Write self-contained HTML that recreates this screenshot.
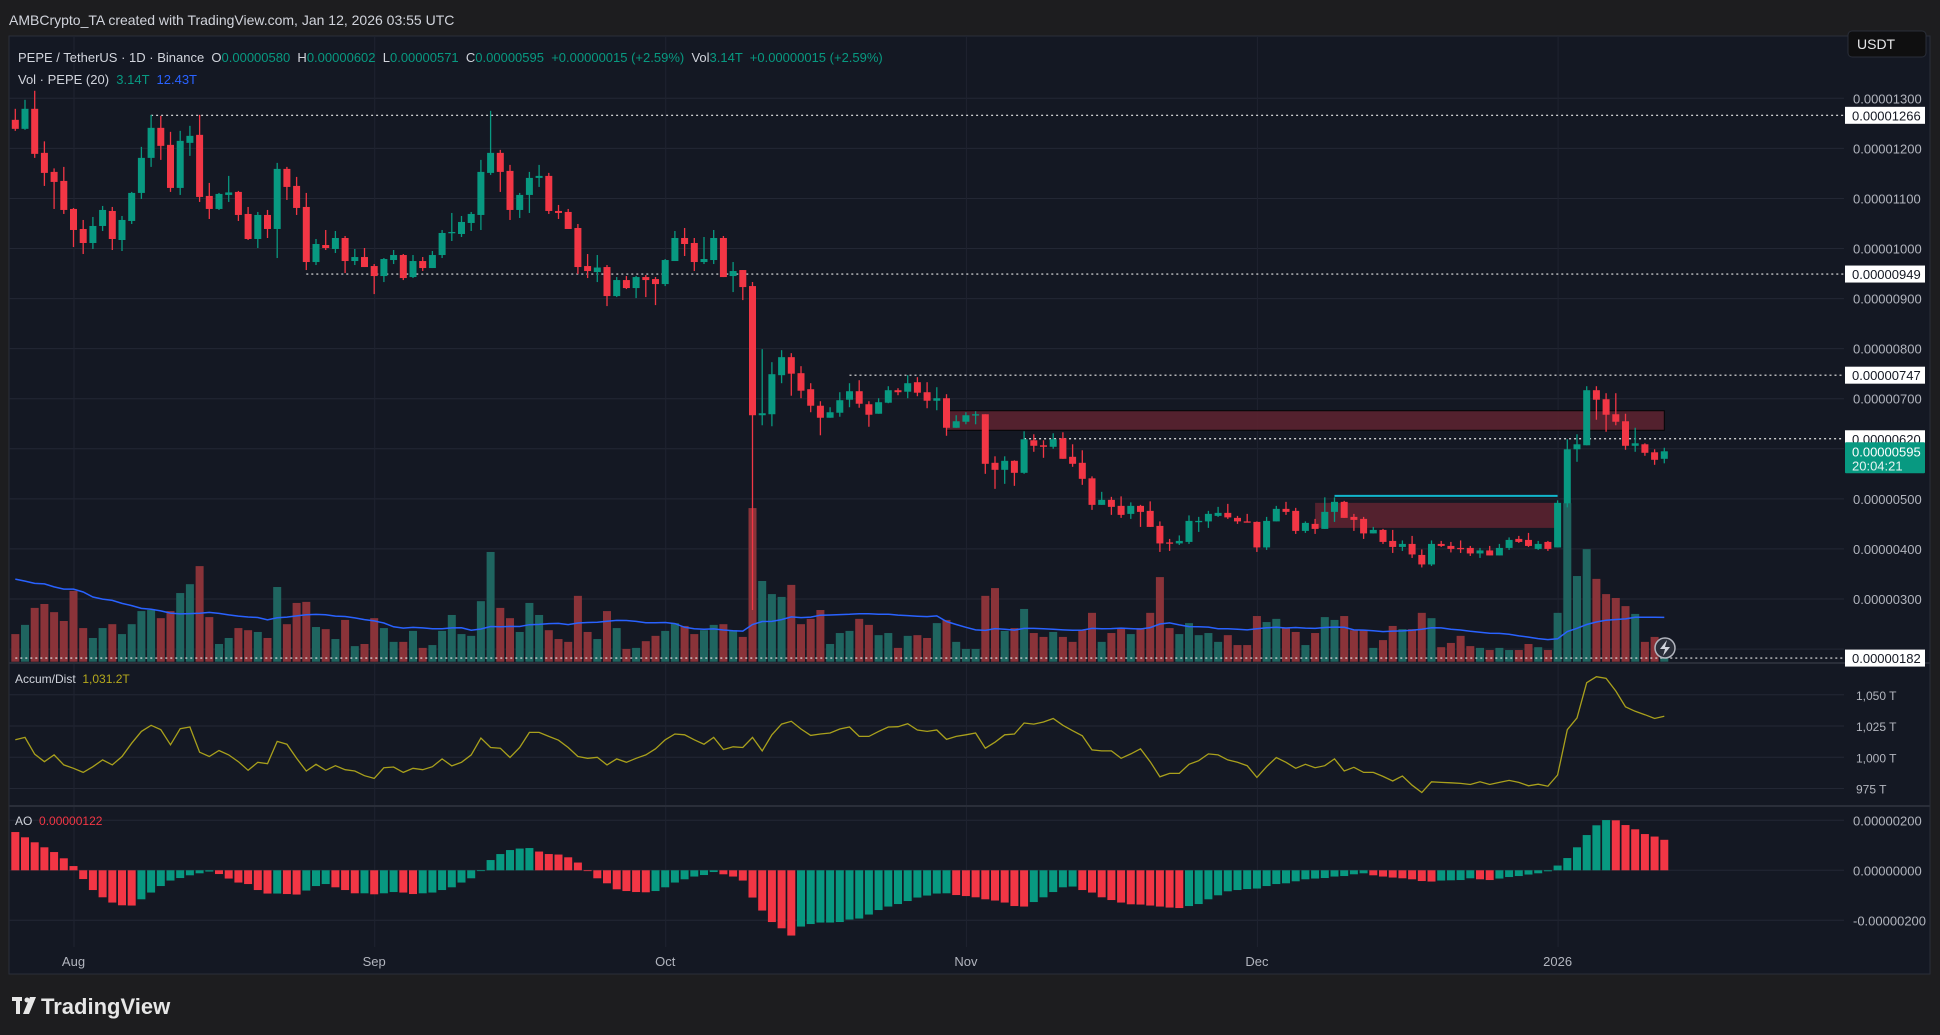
<!DOCTYPE html>
<html><head><meta charset="utf-8"><title>PEPE / TetherUS 1D</title>
<style>
html,body{margin:0;padding:0;background:#1d1d1f;}
body{width:1940px;height:1035px;overflow:hidden;font-family:"Liberation Sans",sans-serif;}
svg{display:block}
text{font-family:"Liberation Sans",sans-serif;}
</style></head>
<body>
<svg id="chart" width="1940" height="1035" viewBox="0 0 1940 1035" xmlns="http://www.w3.org/2000/svg">
  <defs>
    <clipPath id="clipPrice"><rect x="9" y="36" width="1835" height="626"/></clipPath>
    <clipPath id="clipAD"><rect x="9" y="664" width="1835" height="141"/></clipPath>
    <clipPath id="clipAO"><rect x="9" y="807" width="1835" height="140"/></clipPath>
  </defs>
  <rect x="0" y="0" width="1940" height="1035" fill="#1d1d1f"/>
  <text x="9" y="25" font-size="14" fill="#d1d4dc">AMBCrypto_TA created with TradingView.com, Jan 12, 2026 03:55 UTC</text>
  <rect x="9" y="36" width="1921" height="938" fill="#141823" stroke="#2a2e39" stroke-width="1"/>
  <g id="grid"></g>
  <g id="pricePane" clip-path="url(#clipPrice)"></g>
  <g id="adPane" clip-path="url(#clipAD)"></g>
  <g id="aoPane" clip-path="url(#clipAO)"></g>
  <g id="axes"></g>

  <g font-size="13">
    <text x="18" y="62" fill="#d1d4dc" xml:space="preserve">PEPE / TetherUS · 1D · Binance  O<tspan fill="#089981">0.00000580</tspan>  H<tspan fill="#089981">0.00000602</tspan>  L<tspan fill="#089981">0.00000571</tspan>  C<tspan fill="#089981">0.00000595</tspan>  <tspan fill="#089981">+0.00000015 (+2.59%)</tspan>  Vol<tspan fill="#089981">3.14T</tspan>  <tspan fill="#089981">+0.00000015 (+2.59%)</tspan></text>
    <text x="18" y="84" fill="#d1d4dc" xml:space="preserve">Vol · PEPE (20)  <tspan fill="#089981">3.14T</tspan>  <tspan fill="#2962ff">12.43T</tspan></text>
  </g>
  <g>
    <rect x="1848" y="31" width="78" height="26" rx="4" fill="#0f0f10" stroke="#2a2e39"/>
    <text x="1857" y="49" font-size="14" fill="#e8e8ea">USDT</text>
  </g>
  <text x="15" y="683" font-size="12" fill="#d1d4dc" xml:space="preserve">Accum/Dist  <tspan fill="#b5a91c">1,031.2T</tspan></text>
  <text x="15" y="825" font-size="12" fill="#d1d4dc" xml:space="preserve">AO  <tspan fill="#f23645">0.00000122</tspan></text>

  <g>
    <circle cx="1665" cy="648" r="10" fill="#2a2e39" stroke="#b2b5be" stroke-width="1.5"/>
    <path d="M1667 640 L1660 649 L1665 649 L1663 656 L1670 647 L1665 647 Z" fill="#d1d4dc"/>
  </g>

  <rect x="0" y="975" width="1940" height="60" fill="#1d1d1f"/>
  <g>
    <rect x="12" y="997" width="10" height="4" fill="#e6e6e6"/>
    <rect x="16" y="997" width="4" height="17" fill="#e6e6e6"/>
    <circle cx="27" cy="1000" r="2.5" fill="#e6e6e6"/>
    <path d="M30 997 L36 997 L29 1014 L23 1014 Z" fill="#e6e6e6"/>
    <text x="41" y="1014" font-size="22" font-weight="bold" fill="#e6e6e6">TradingView</text>
  </g>
</svg>
<script>
// ---------- DATA ----------
const openP = [12.57,12.39,12.79,11.91,11.53,11.35,10.79,10.39,10.11,10.45,10.75,10.17,10.55,11.11,11.81,12.41,12.07,11.21,12.11,12.27,11.05,10.79,11.07,11.13,10.69,10.19,10.67,10.39,11.59,11.25,10.83,9.73,10.07,9.99,10.21,9.75,9.83,9.65,9.45,9.77,9.87,9.43,9.75,9.61,9.87,10.31,10.29,10.51,10.67,11.51,11.91,11.55,10.77,11.07,11.41,11.45,10.75,10.73,10.41,9.65,9.53,9.63,9.05,9.37,9.21,9.43,9.39,9.29,9.75,10.21,10.11,9.73,9.77,10.21,9.45,9.57,9.25,6.67,6.69,7.47,7.83,7.51,7.19,6.86,6.62,6.72,6.98,7.15,6.89,6.70,6.92,7.17,7.14,7.33,7.13,6.96,7.01,6.42,6.54,6.68,6.69,5.72,5.58,5.76,5.52,6.17,6.07,6.04,6.21,5.84,5.72,5.41,4.88,4.98,4.86,4.70,4.86,4.76,4.46,4.13,4.11,4.14,4.55,4.55,4.66,4.72,4.62,4.55,4.54,4.03,4.55,4.80,4.76,4.36,4.50,4.40,4.74,4.94,4.64,4.60,4.31,4.38,4.16,4.04,4.10,3.88,3.69,4.10,4.06,4.02,4.02,3.91,3.97,3.87,4.02,4.20,4.18,4.00,4.14,4.03,4.91,5.99,6.07,7.17,6.99,6.69,6.55,6.06,6.09,5.93,5.80];
const highP = [12.79,12.97,13.15,12.14,11.60,11.63,10.81,10.57,10.63,10.85,10.83,10.65,11.13,12.03,12.67,12.65,12.33,12.35,12.45,12.67,11.31,11.11,11.45,11.15,10.83,10.73,10.77,11.71,11.63,11.43,11.11,10.19,10.37,10.35,10.25,9.99,10.01,9.69,9.81,9.97,9.89,9.87,9.83,9.95,10.37,10.71,10.65,10.73,11.77,12.75,11.97,11.67,11.11,11.53,11.67,11.51,10.87,10.79,10.49,9.89,9.87,9.67,9.43,9.45,9.45,9.47,9.43,9.79,10.35,10.41,10.21,10.23,10.37,10.25,9.73,9.57,9.33,7.99,7.73,7.97,7.91,7.65,7.31,6.95,6.83,7.13,7.31,7.37,6.95,7.01,7.25,7.21,7.47,7.43,7.33,7.23,7.09,6.67,6.73,6.75,6.69,5.85,5.85,5.77,6.35,6.29,6.17,6.31,6.33,6.09,5.97,5.45,5.14,5.04,5.05,4.93,4.88,4.95,4.55,4.20,4.27,4.67,4.64,4.76,4.84,4.90,4.66,4.70,4.55,4.64,4.86,4.94,4.82,4.55,4.60,5.03,5.03,4.96,4.70,4.64,4.44,4.40,4.38,4.17,4.26,3.99,4.17,4.16,4.14,4.17,4.06,4.02,4.06,4.10,4.23,4.26,4.32,4.16,4.16,4.97,6.19,6.29,7.25,7.25,7.11,7.11,6.70,6.42,6.11,5.99,6.02];
const lowP = [12.35,12.37,11.81,11.25,10.79,10.69,10.03,9.89,9.99,10.35,9.97,9.95,10.49,10.99,11.63,11.77,11.13,11.07,11.85,10.93,10.59,10.77,10.93,10.55,10.17,10.01,10.21,9.81,10.97,10.67,9.57,9.67,9.97,9.91,9.51,9.67,9.63,9.09,9.33,9.69,9.37,9.41,9.55,9.61,9.81,10.15,10.23,10.35,10.37,11.47,11.13,10.57,10.61,10.71,11.23,10.69,10.59,10.39,9.49,9.41,9.33,8.85,9.03,9.19,9.01,9.03,8.87,9.25,9.75,9.85,9.55,9.69,9.69,9.43,9.13,8.97,2.78,6.47,6.45,7.31,7.06,7.01,6.73,6.27,6.62,6.64,6.83,6.82,6.44,6.70,6.91,7.07,7.01,7.05,6.81,6.77,6.26,6.42,6.49,6.49,5.50,5.20,5.30,5.26,5.50,5.94,5.82,6.00,5.80,5.64,5.28,4.78,4.88,4.68,4.62,4.60,4.44,4.44,3.94,3.96,4.08,4.10,4.34,4.42,4.64,4.60,4.50,4.53,3.94,3.98,4.55,4.68,4.30,4.32,4.30,4.40,4.54,4.62,4.36,4.20,4.31,4.10,3.92,3.96,3.82,3.63,3.66,4.04,3.93,3.92,3.86,3.82,3.87,3.87,3.98,4.12,4.04,3.98,3.96,4.03,4.83,5.74,6.07,6.58,6.34,6.47,5.98,5.94,5.86,5.68,5.71];
const closeP = [12.39,12.79,11.89,11.51,11.33,10.77,10.37,10.11,10.45,10.77,10.19,10.57,11.11,11.81,12.41,12.05,11.21,12.15,12.25,11.03,10.79,11.09,11.12,10.67,10.19,10.67,10.39,11.59,11.23,10.81,9.73,10.09,10.01,10.21,9.75,9.83,9.63,9.45,9.79,9.87,9.41,9.75,9.61,9.87,10.31,10.33,10.53,10.69,11.53,11.91,11.53,10.77,11.07,11.41,11.45,10.75,10.71,10.39,9.63,9.55,9.62,9.05,9.37,9.21,9.43,9.37,9.29,9.77,10.21,10.09,9.73,9.79,10.21,9.43,9.55,9.23,6.67,6.71,7.49,7.83,7.50,7.16,6.86,6.62,6.73,6.97,7.15,6.90,6.68,6.93,7.17,7.13,7.31,7.12,6.96,7.01,6.42,6.55,6.67,6.69,5.70,5.58,5.76,5.52,6.19,6.06,6.04,6.19,5.80,5.70,5.40,4.88,4.98,4.84,4.68,4.86,4.74,4.44,4.11,4.12,4.16,4.56,4.56,4.70,4.72,4.63,4.55,4.53,4.03,4.56,4.80,4.74,4.36,4.52,4.40,4.74,4.94,4.62,4.58,4.31,4.38,4.14,4.04,4.10,3.89,3.69,4.10,4.06,4.00,4.01,3.91,3.97,3.87,4.02,4.18,4.14,4.06,4.10,4.00,4.92,5.99,6.09,7.17,6.98,6.68,6.54,6.06,6.11,5.92,5.78,5.95];
const volumeT = [7.8,10.4,15.2,16.3,14.0,11.5,20.0,9.5,6.7,9.5,10.6,7.8,10.6,14.3,14.6,12.3,14.3,19.4,21.9,27.0,12.6,5.0,6.7,9.5,8.9,8.4,6.7,21.1,10.6,16.6,16.9,9.8,9.2,6.4,11.8,4.4,5.0,12.3,9.5,5.6,5.6,8.7,3.9,4.7,8.7,13.2,7.8,7.3,17.1,31.0,15.2,12.3,8.4,16.6,13.2,8.9,6.4,5.6,18.6,8.4,6.4,14.3,9.5,3.6,3.9,5.8,7.3,8.7,10.9,10.1,7.8,8.9,10.4,10.6,8.9,7.0,43.4,22.8,19.1,18.3,21.7,10.6,12.1,14.6,5.0,8.1,8.7,12.1,10.4,7.5,8.1,3.9,7.3,7.5,6.7,10.9,11.8,5.6,3.6,3.6,18.6,20.8,8.7,9.5,14.9,8.1,7.0,8.4,7.0,5.6,8.9,13.8,5.6,8.1,9.5,7.8,9.5,13.8,23.9,9.5,7.8,10.9,7.5,8.1,5.6,7.5,4.7,4.7,12.9,11.2,12.1,9.5,8.4,4.7,8.1,12.6,11.8,12.9,8.9,8.9,3.9,6.1,10.1,9.2,9.2,13.8,12.3,4.1,5.3,7.3,4.4,3.9,3.3,3.9,3.3,3.3,5.0,4.1,3.3,13.8,44.8,24.2,31.8,23.4,19.1,18.0,15.7,13.5,5.6,7.0,3.14];
const priorVolumeT = [22,28,19,31,24,20,26,35,21,18,25,23,30,19,22,27,24,20,25];
const accumDistT = [1014.0,1015.9,1002.5,996.5,1001.9,993.9,991.2,987.9,992.5,997.9,993.9,1000.6,1011.3,1020.7,1025.6,1022.1,1010.0,1022.9,1024.2,1004.1,1000.6,1005.4,1001.9,996.5,989.6,996.0,994.9,1012.7,1010.5,999.2,989.0,994.4,989.6,993.3,990.1,989.0,985.3,983.1,991.7,992.2,987.9,991.2,990.1,992.5,998.7,993.1,996.0,1001.9,1015.4,1007.8,1007.3,999.8,1007.8,1019.9,1019.9,1016.7,1013.7,1007.8,1000.6,999.2,1000.0,993.9,998.7,996.0,999.2,1001.9,1006.8,1014.0,1018.6,1018.0,1014.0,1010.5,1015.9,1006.2,1008.4,1007.8,1015.9,1005.1,1018.0,1026.6,1028.8,1022.6,1017.5,1018.6,1019.4,1022.6,1024.2,1016.7,1016.7,1020.7,1024.2,1024.5,1026.9,1021.8,1020.7,1021.8,1014.3,1016.7,1018.0,1019.4,1007.3,1012.1,1018.0,1018.6,1027.4,1026.6,1028.2,1031.0,1025.6,1021.3,1017.2,1005.9,1005.1,1005.1,999.2,1002.7,1006.8,996.5,984.4,987.1,987.1,994.4,997.3,1002.7,1001.9,997.9,996.0,993.3,983.9,992.5,999.8,996.0,991.2,994.4,991.7,993.3,998.7,989.0,992.0,987.9,987.9,984.7,981.0,985.0,977.7,971.8,980.4,979.9,979.6,979.1,978.2,980.4,978.2,979.9,981.5,979.9,977.2,978.5,976.9,985.8,1022.1,1031.5,1059.7,1064.5,1063.2,1053.0,1040.3,1036.8,1034.1,1031.0,1032.8];
const aoValues = [1.53,1.32,1.12,0.92,0.73,0.48,0.17,-0.35,-0.79,-1.08,-1.29,-1.40,-1.41,-1.16,-0.89,-0.63,-0.41,-0.31,-0.20,-0.12,-0.05,-0.15,-0.33,-0.49,-0.55,-0.79,-0.93,-0.93,-0.95,-0.97,-0.81,-0.63,-0.55,-0.68,-0.79,-0.92,-0.92,-0.96,-0.92,-0.87,-0.89,-0.95,-0.92,-0.89,-0.79,-0.68,-0.49,-0.32,-0.03,0.41,0.65,0.81,0.87,0.89,0.75,0.65,0.63,0.52,0.31,0.0,-0.32,-0.52,-0.76,-0.83,-0.87,-0.88,-0.83,-0.68,-0.49,-0.36,-0.25,-0.19,-0.07,-0.16,-0.25,-0.41,-1.09,-1.61,-2.07,-2.32,-2.61,-2.25,-2.15,-2.09,-2.09,-2.07,-1.97,-1.93,-1.77,-1.59,-1.45,-1.35,-1.23,-1.09,-1.01,-0.93,-0.92,-0.99,-1.03,-1.08,-1.16,-1.21,-1.29,-1.43,-1.45,-1.27,-1.08,-0.87,-0.68,-0.65,-0.79,-0.89,-1.08,-1.19,-1.29,-1.36,-1.37,-1.41,-1.45,-1.49,-1.51,-1.43,-1.35,-1.16,-1.00,-0.84,-0.79,-0.75,-0.73,-0.63,-0.55,-0.52,-0.44,-0.36,-0.33,-0.31,-0.25,-0.23,-0.16,-0.12,-0.20,-0.25,-0.29,-0.32,-0.36,-0.43,-0.45,-0.41,-0.40,-0.39,-0.32,-0.36,-0.39,-0.33,-0.27,-0.23,-0.17,-0.12,-0.04,0.19,0.49,0.92,1.41,1.80,2.01,2.00,1.81,1.64,1.45,1.35,1.22];
const priceTicks = [13,12,11,10,9,8,7,5,4,3];
const priceTickLabels = ["0.00001300","0.00001200","0.00001100","0.00001000","0.00000900","0.00000800","0.00000700","0.00000500","0.00000400","0.00000300"];
const priceGridLevels = [13,12,11,10,9,8,7,6,5,4,3,2];
const keyLevels = [12.66,9.49,7.47,6.20,1.82];
const keyLevelLabels = ["0.00001266","0.00000949","0.00000747","0.00000620","0.00000182"];
const keyLevelStartDay = [14,30,86,104,0];
const adTicks = [1050,1025,1000,975];
const adTickLabels = ["1,050 T","1,025 T","1,000 T","975 T"];
const aoTicks = [2,0,-2];
const aoTickLabels = ["0.00000200","0.00000000","-0.00000200"];
const monthDays = [6,37,67,98,128,159];
const monthLabels = ["Aug","Sep","Oct","Nov","Dec","2026"];
const zoneTop = [6.76,4.92];
const zoneBottom = [6.37,4.42];
const zoneStartDay = [96,134];
const zoneEndDay = [170,159];
const cyanLevel = 5.06;
const cyanStartDay = [136];
const cyanEndDay = [159];
const lastPrice = 5.95;
const lastPriceLabel = "0.00000595";
const countdownLabel = "20:04:21";

// ---------- SCALES ----------
const NS = "http://www.w3.org/2000/svg";
const xOf = i => 15.3 + i * 9.7;
const yP = p => 98.3 + (13 - p) * 50.07;
const VOL_BASE = 661.7;
const yV = v => VOL_BASE - v / 0.2825;
const yAD = v => 757.3 - (v - 1000) * 1.25;
const yAO = v => 870.3 - v * 25;
const GREEN = "#089981", RED = "#f23645";
function mk(tag, attrs, parent) {
  const e = document.createElementNS(NS, tag);
  for (const k in attrs) e.setAttribute(k, attrs[k]);
  parent.appendChild(e);
  return e;
}
const grid = document.getElementById("grid");
const pricePane = document.getElementById("pricePane");
const adPane = document.getElementById("adPane");
const aoPane = document.getElementById("aoPane");
const axes = document.getElementById("axes");

priceGridLevels.forEach(p => {
  const l = mk("line", {x1: 9, x2: 1844, y1: yP(p), y2: yP(p), stroke: "#232734", "stroke-width": 1}, grid);
  
  
});
adTicks.forEach(v => {
  const l = mk("line", {x1: 9, x2: 1844, y1: yAD(v), y2: yAD(v), stroke: "#232734", "stroke-width": 1}, grid);
  
  
});
aoTicks.forEach(v => {
  const l = mk("line", {x1: 9, x2: 1844, y1: yAO(v), y2: yAO(v), stroke: "#232734", "stroke-width": 1}, grid);
  
  
});
monthDays.forEach(d => {
  const l = mk("line", {x1: xOf(d) + 0.5, x2: xOf(d) + 0.5, y1: 36, y2: 947, stroke: "#1f2330", "stroke-width": 1}, grid);
  
  
});
[663, 806].forEach(y => {
  const l = mk("line", {x1: 9, x2: 1930, y1: y, y2: y, stroke: "#2a2e39", "stroke-width": 2}, grid);
  
  
});

zoneTop.forEach((t, k) => {
  const r = mk("rect", {x: xOf(zoneStartDay[k]), y: yP(t), width: xOf(zoneEndDay[k]) - xOf(zoneStartDay[k]), height: yP(zoneBottom[k]) - yP(t), fill: "#5a2230", "fill-opacity": 0.9, stroke: k === 0 ? "#050505" : "none", "stroke-width": 1}, pricePane);
  
  
});

volumeT.forEach((v, i) => {
  const up = closeP[i] >= openP[i];
  const r = mk("rect", {x: xOf(i) - 4, y: yV(v), width: 8, height: VOL_BASE - yV(v), fill: up ? "#1f6560" : "#8a3339"}, pricePane);
  
  
});
const allVol = priorVolumeT.concat(volumeT);
let maPts = [];
volumeT.forEach((v, i) => {
  const j = i + priorVolumeT.length;
  let s = 0;
  for (let k = j - 19; k <= j; k++) s += allVol[k];
  maPts.push(xOf(i) + "," + yV(s / 20).toFixed(1));
});
const ma = mk("polyline", {points: maPts.join(" "), fill: "none", stroke: "#2962ff", "stroke-width": 1.5}, pricePane);



keyLevels.forEach((p, k) => {
  const l = mk("line", {x1: xOf(keyLevelStartDay[k]), x2: 1844, y1: yP(p), y2: yP(p), stroke: "#e8e8e8", "stroke-width": 1.2, "stroke-dasharray": "2 3"}, pricePane);
  
  
});
const cy = mk("line", {x1: xOf(cyanStartDay[0]), x2: xOf(cyanEndDay[0]), y1: yP(cyanLevel), y2: yP(cyanLevel), stroke: "#12b6cc", "stroke-width": 2}, pricePane);



openP.forEach((o, i) => {
  const c = closeP[i], up = c >= o, col = up ? GREEN : RED, x = xOf(i);
  const g = mk("g", {}, pricePane);
  
  
  mk("line", {x1: x, x2: x, y1: yP(highP[i]), y2: yP(lowP[i]), stroke: col, "stroke-width": 1.3}, g);
  const top = yP(Math.max(o, c)), bot = yP(Math.min(o, c));
  mk("rect", {x: x - 3.5, y: top, width: 7, height: Math.max(1.3, bot - top), fill: col}, g);
});

const adPts = accumDistT.map((v, i) => xOf(i) + "," + yAD(v).toFixed(1)).join(" ");
const adl = mk("polyline", {points: adPts, fill: "none", stroke: "#a9a01c", "stroke-width": 1.3}, adPane);



aoValues.forEach((v, i) => {
  const rising = i === 0 ? false : v >= aoValues[i - 1];
  const y0 = yAO(0), y1 = yAO(v);
  const r = mk("rect", {x: xOf(i) - 4, y: Math.min(y0, y1), width: 8, height: Math.max(0.8, Math.abs(y1 - y0)), fill: rising ? GREEN : RED}, aoPane);
  
  
});

priceTicks.forEach((p, k) => {
  const t = mk("text", {x: 1853, y: yP(p) + 5, "font-size": 13, fill: "#b2b5be"}, axes);
  t.textContent = priceTickLabels[k];
  
  
});
keyLevels.forEach((p, k) => {
  const g = mk("g", {}, axes);
  
  
  mk("rect", {x: 1845, y: yP(p) - 8.5, width: 80, height: 17, fill: "#ffffff"}, g);
  const t = mk("text", {x: 1852, y: yP(p) + 5, "font-size": 13, fill: "#131722"}, g);
  t.textContent = keyLevelLabels[k];
});
{
  const g = mk("g", {}, axes);
  
  
  const yy = yP(lastPrice);
  mk("rect", {x: 1845, y: yy - 9, width: 80, height: 31, fill: GREEN, rx: 1}, g);
  const t1 = mk("text", {x: 1852, y: yy + 5, "font-size": 13, fill: "#ffffff"}, g);
  t1.textContent = lastPriceLabel;
  const t2 = mk("text", {x: 1852, y: yy + 19, "font-size": 13, fill: "#e6f4f2"}, g);
  t2.textContent = countdownLabel;
}
adTicks.forEach((v, k) => {
  const t = mk("text", {x: 1856, y: yAD(v) + 5, "font-size": 12, fill: "#b2b5be"}, axes);
  t.textContent = adTickLabels[k];
  
  
});
aoTicks.forEach((v, k) => {
  const t = mk("text", {x: 1853, y: yAO(v) + 5, "font-size": 13, fill: "#b2b5be"}, axes);
  t.textContent = aoTickLabels[k];
  
  
});
monthDays.forEach((d, k) => {
  const t = mk("text", {x: xOf(d), y: 966, "font-size": 13, fill: "#b2b5be", "text-anchor": "middle"}, axes);
  t.textContent = monthLabels[k];
  
  
});
</script>
</body></html>
